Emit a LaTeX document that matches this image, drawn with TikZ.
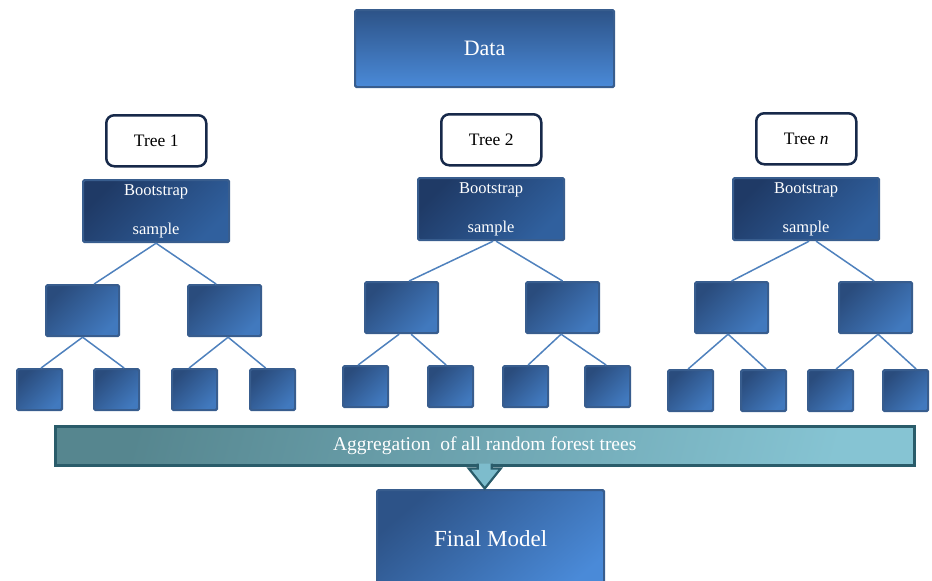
\documentclass[tikz,border=0pt]{standalone}
\usepackage{fontspec}
\setmainfont{Liberation Serif}
\usetikzlibrary{calc}
\definecolor{dtop}{HTML}{2D5388}
\definecolor{dbot}{HTML}{4A8AD8}
\definecolor{boxborder}{HTML}{385D8E}
\definecolor{boottl}{HTML}{1F3A66}
\definecolor{bootbr}{HTML}{30609E}
\definecolor{lvtl}{HTML}{2A4C7D}
\definecolor{lvbr}{HTML}{4179BE}
\definecolor{treeborder}{HTML}{17294A}
\definecolor{conncol}{HTML}{4F81BD}
\definecolor{aggl}{HTML}{56868F}
\definecolor{aggr}{HTML}{86C4D3}
\definecolor{aggborder}{HTML}{2A5C6A}
\definecolor{arrowfill}{HTML}{7DBCCC}
\tikzset{
  bluebox/.style={draw=boxborder, line width=2.2pt, rounded corners=1.5pt, inner sep=0pt, anchor=north west, text=white},
  databox/.style={bluebox, top color=dtop, bottom color=dbot, font=\fontsize{22}{26}\selectfont},
  finalbox/.style={bluebox, top color=dtop, bottom color=dbot, shading angle=40, font=\fontsize{23}{27}\selectfont},
  bootbox/.style={bluebox, top color=boottl, bottom color=bootbr, shading angle=45, minimum width=146pt, minimum height=62pt, align=center, font=\fontsize{16.5}{20}\selectfont},
  midbox/.style={bluebox, top color=lvtl, bottom color=lvbr, shading angle=45, minimum width=73pt, minimum height=51pt},
  leafbox/.style={bluebox, top color=lvtl, bottom color=lvbr, shading angle=45, minimum width=45pt, minimum height=41pt},
  treelabel/.style={draw=treeborder, line width=2.5pt, rounded corners=8pt, fill=white, anchor=north west, minimum width=100pt, minimum height=51pt, inner sep=0pt, font=\fontsize{17.5}{21}\selectfont},
  conn/.style={draw=conncol, line width=1.5pt},
  aggbox/.style={draw=aggborder, line width=2.5pt, inner sep=0pt, anchor=north west, top color=aggl, bottom color=aggr, shading angle=75, text=white, font=\fontsize{19.5}{23}\selectfont},
  arrowshape/.style={draw=aggborder, line width=2.2pt, fill=arrowfill, line join=miter}
}
\begin{document}
\begin{tikzpicture}[x=1pt,y=-1pt]
\useasboundingbox (0,0) rectangle (932,581);
\clip (0,0) rectangle (932,581);

% Data
\node[databox, minimum width=259pt, minimum height=77pt] (data) at (354,9) {Data};

% tree labels
\node[treelabel] (t1) at (105,114) {Tree 1};
\node[treelabel] (t2) at (440,113) {Tree 2};
\node[treelabel] (tn) at (755,112) {Tree \textit{n}};

% bootstrap boxes
\node[bootbox] (b1) at (82,179) {Bootstrap\\[19pt]sample};
\node[bootbox] (b2) at (417,177) {Bootstrap\\[19pt]sample};
\node[bootbox] (bn) at (732,177) {Bootstrap\\[19pt]sample};

% level 2
\node[midbox] (m11) at (45,284) {};
\node[midbox] (m12) at (187,284) {};
\node[midbox] (m21) at (364,281) {};
\node[midbox] (m22) at (525,281) {};
\node[midbox] (mn1) at (694,281) {};
\node[midbox] (mn2) at (838,281) {};

% leaves
\node[leafbox] (l111) at (16,368) {};
\node[leafbox] (l112) at (93,368) {};
\node[leafbox] (l121) at (171,368) {};
\node[leafbox] (l122) at (249,368) {};
\node[leafbox] (l211) at (342,365) {};
\node[leafbox] (l212) at (427,365) {};
\node[leafbox] (l221) at (502,365) {};
\node[leafbox] (l222) at (584,365) {};
\node[leafbox] (ln11) at (667,369) {};
\node[leafbox] (ln12) at (740,369) {};
\node[leafbox] (ln21) at (807,369) {};
\node[leafbox] (ln22) at (882,369) {};

% connectors tree 1
\draw[conn] (b1.south) -- ([xshift=11.5pt]m11.north);
\draw[conn] (b1.south) -- ([xshift=-8.5pt]m12.north);
\draw[conn] (m11.south) -- ([xshift=1.5pt]l111.north);
\draw[conn] (m11.south) -- ([xshift=7.5pt]l112.north);
\draw[conn] ([xshift=3.5pt]m12.south) -- ([xshift=-5.5pt]l121.north);
\draw[conn] ([xshift=3.5pt]m12.south) -- ([xshift=-7pt]l122.north);
% connectors tree 2
\draw[conn] ([xshift=2pt]b2.south) -- ([xshift=7.5pt]m21.north);
\draw[conn] ([xshift=5pt]b2.south) -- (m22.north);
\draw[conn] ([xshift=-2.5pt]m21.south) -- ([xshift=-7.5pt]l211.north);
\draw[conn] ([xshift=9.5pt]m21.south) -- ([xshift=-4.5pt]l212.north);
\draw[conn] ([xshift=-1.5pt]m22.south) -- ([xshift=2.5pt]l221.north);
\draw[conn] ([xshift=-1.5pt]m22.south) -- ([xshift=-1.5pt]l222.north);
% connectors tree n
\draw[conn] ([xshift=3pt]bn.south) -- (mn1.north);
\draw[conn] ([xshift=10pt]bn.south) -- ([xshift=-1.5pt]mn2.north);
\draw[conn] ([xshift=-3.5pt]mn1.south) -- ([xshift=-2.5pt]ln11.north);
\draw[conn] ([xshift=-3.5pt]mn1.south) -- ([xshift=2.5pt]ln12.north);
\draw[conn] ([xshift=2.5pt]mn2.south) -- ([xshift=5.5pt]ln21.north);
\draw[conn] ([xshift=2.5pt]mn2.south) -- ([xshift=10.5pt]ln22.north);

% aggregation bar
\node[aggbox, minimum width=859pt, minimum height=39pt] (agg) at (54,425) {Aggregation\ \ of all random forest trees};

% final model
\node[finalbox, minimum width=227pt, minimum height=110pt] (final) at (376,489) {\raisebox{14pt}{Final Model}};

% down arrow
\draw[arrowshape] ($(agg.south)+(-7,-3)$) -- ($(agg.south)+(-7,2)$) -- ($(agg.south)+(-16,2)$)
  -- ($(agg.south)+(0,22)$) -- ($(agg.south)+(16,2)$) -- ($(agg.south)+(7,2)$) -- ($(agg.south)+(7,-3)$);
\end{tikzpicture}
\end{document}
